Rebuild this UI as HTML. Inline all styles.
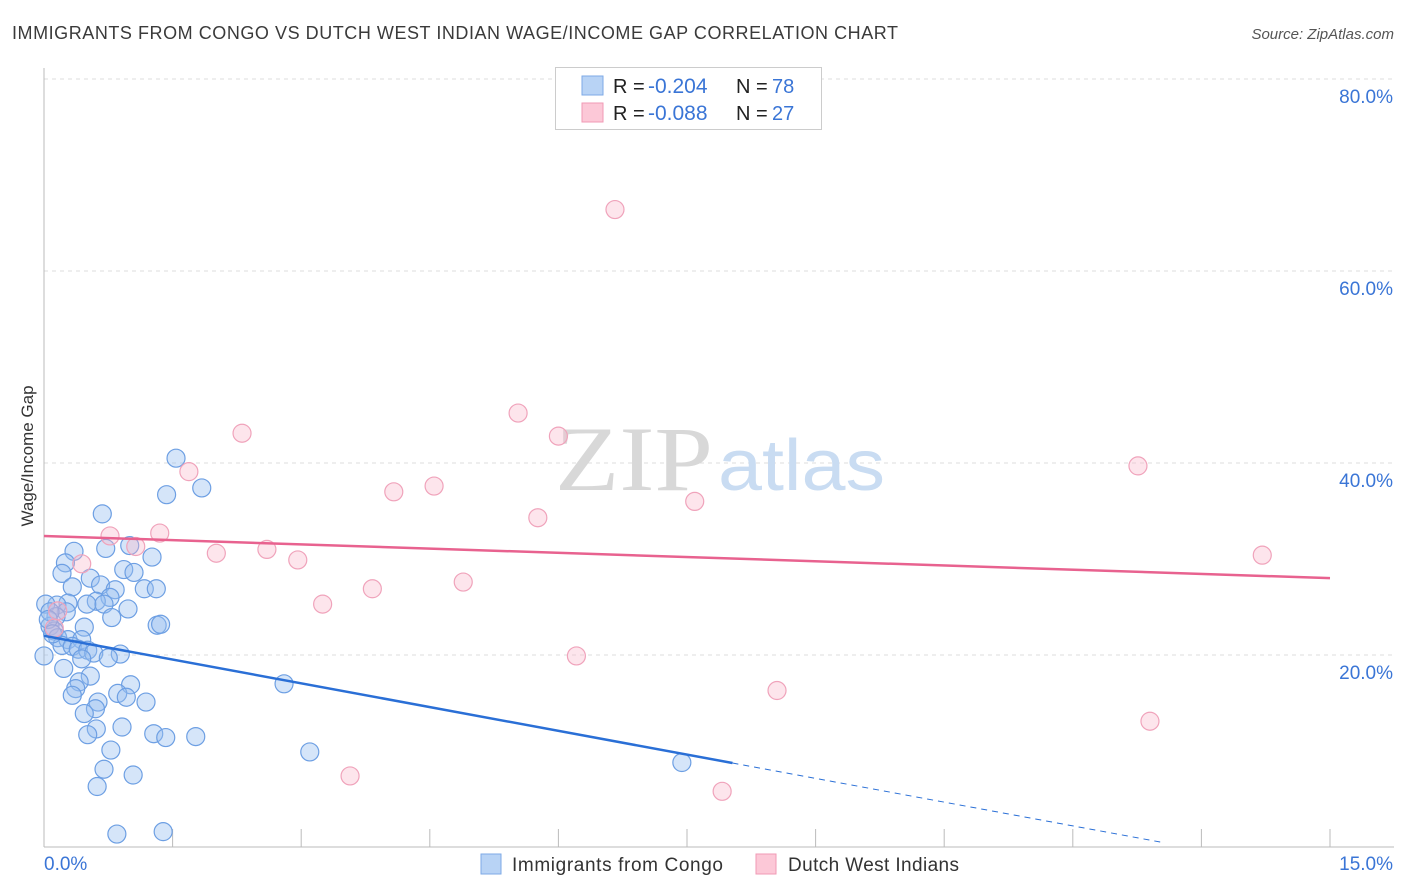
<!DOCTYPE html>
<html><head><meta charset="utf-8"><style>
body{margin:0;background:#fff;font-family:"Liberation Sans",sans-serif;}
#wrap{position:relative;width:1406px;height:892px;overflow:hidden;}
</style></head><body>
<div id="wrap">
<svg id="svg" width="1406" height="892" xmlns="http://www.w3.org/2000/svg">
<text x="12" y="39" font-size="18" fill="#3a3a3a" textLength="886" lengthAdjust="spacing">IMMIGRANTS FROM CONGO VS DUTCH WEST INDIAN WAGE/INCOME GAP CORRELATION CHART</text>
<text x="1394" y="39" font-size="15" fill="#555" font-style="italic" text-anchor="end">Source: ZipAtlas.com</text>
<text x="0" y="0" transform="translate(33,456) rotate(-90)" font-size="17" fill="#333" text-anchor="middle">Wage/Income Gap</text>
<g id="grid"></g>
<text x="713" y="490" font-size="92" fill="#d8d8d8" font-family="Liberation Serif,serif" text-anchor="end" textLength="158" lengthAdjust="spacingAndGlyphs">ZIP</text>
<text x="718" y="490" font-size="72" fill="#c9dcf2" font-family="Liberation Sans,sans-serif" textLength="167" lengthAdjust="spacingAndGlyphs">atlas</text>
<g id="marks"></g>
<g id="lines"></g>
<g>
<rect x="555.5" y="67.5" width="266" height="62" fill="#fff" stroke="#ccc"/>
<rect x="582" y="76" width="21" height="19" fill="#b8d3f5" stroke="#7ea9e6"/>
<rect x="582" y="103" width="21" height="19" fill="#fcc8d7" stroke="#f09ab4"/>
<text x="613" y="93" font-size="20" fill="#222">R =</text>
<text x="648" y="93" font-size="21" fill="#3a75d6">-0.204</text>
<text x="736" y="93" font-size="20" fill="#222">N =</text>
<text x="772" y="93" font-size="20" fill="#3a75d6">78</text>
<text x="613" y="120" font-size="20" fill="#222">R =</text>
<text x="648" y="120" font-size="21" fill="#3a75d6">-0.088</text>
<text x="736" y="120" font-size="20" fill="#222">N =</text>
<text x="772" y="120" font-size="20" fill="#3a75d6">27</text>
</g>
<g>
<rect x="481" y="854" width="20" height="20" fill="#b8d3f5" stroke="#7ea9e6"/>
<text x="512" y="871" font-size="19" fill="#333" textLength="211">Immigrants from Congo</text>
<rect x="756" y="854" width="20" height="20" fill="#fcc8d7" stroke="#f09ab4"/>
<text x="788" y="871" font-size="19" fill="#333" textLength="171">Dutch West Indians</text>
</g>
</svg>
</div>
<script>
const blueX=[1.54,1.43,1.84,0.68,0.72,1.00,0.35,1.26,0.25,0.21,0.93,1.05,0.54,0.66,0.33,0.83,1.17,1.31,0.77,0.61,0.50,0.28,0.15,0.02,0.70,0.98,0.26,0.14,0.79,1.32,1.36,0.47,0.07,0.12,0.16,0.28,0.44,0.21,0.33,0.40,0.51,0.58,0.89,0.75,0.44,0.00,0.23,2.80,0.54,0.41,1.01,0.37,0.33,0.86,0.96,0.63,1.19,0.60,0.47,0.91,0.61,1.28,1.42,1.77,0.51,0.78,3.10,0.70,1.04,0.62,7.44,0.85,1.39,0.07,0.05,0.10];
const blueY=[40.5,36.7,37.4,34.7,31.1,31.4,30.8,30.2,29.6,28.5,28.9,28.6,28.0,27.3,27.1,26.8,26.9,26.9,26.0,25.6,25.3,25.4,25.2,25.3,25.3,24.8,24.5,24.0,23.9,23.1,23.2,22.9,23.0,22.5,21.8,21.6,21.6,21.0,20.9,20.6,20.5,20.2,20.1,19.7,19.6,19.9,18.6,17.0,17.8,17.2,16.9,16.5,15.8,16.0,15.6,15.1,15.1,14.4,13.9,12.5,12.3,11.8,11.4,11.5,11.7,10.1,9.9,8.1,7.5,6.3,8.8,1.35,1.6,24.5,23.7,22.2];
const pinkX=[6.66,5.53,6.00,2.31,1.69,4.55,4.08,12.76,7.59,5.76,1.35,0.77,1.07,2.01,2.60,2.96,14.21,0.44,4.89,3.83,3.25,0.16,0.12,6.21,8.55,12.90,3.57,7.91];
const pinkY=[66.4,45.2,42.8,43.1,39.1,37.6,37.0,39.7,36.0,34.3,32.7,32.4,31.3,30.6,31.0,29.9,30.4,29.5,27.6,26.9,25.3,24.6,22.8,19.9,16.3,13.1,7.4,5.8];
const yTicks=[20,40,60,80];
const yTickLabels=["20.0%","40.0%","60.0%","80.0%"];
const xTicks=[1.5,3,4.5,6,7.5,9,10.5,12,13.5,15];
const blueTrend=[22.0,-1.65];   // intercept, slope
const blueSolidEnd=8.03, blueDashEnd=13.05;
const pinkTrend=[32.4,-0.293];

const X=v=>44+v/15*1286;
const Y=v=>847-v/20*192;
const NS="http://www.w3.org/2000/svg";
function mk(tag,attrs,parent){const e=document.createElementNS(NS,tag);for(const k in attrs)e.setAttribute(k,attrs[k]);parent.appendChild(e);return e;}
const grid=document.getElementById('grid'),marks=document.getElementById('marks'),lines=document.getElementById('lines');
yTicks.forEach((t,i)=>{
  const l=mk('line',{x1:44,x2:1394,y1:Y(t),y2:Y(t),stroke:'#ddd','stroke-dasharray':'4,4'},grid);
  
  
  const tx=mk('text',{x:1393,y:Y(t)+24,'font-size':19,fill:'#3a75d6','text-anchor':'end'},grid);
  tx.textContent=yTickLabels[i];
  
  
});
const ax=mk('line',{x1:44,x2:44,y1:68,y2:847,stroke:'#bbb'},grid);


const bx=mk('line',{x1:44,x2:1394,y1:847,y2:847,stroke:'#bbb'},grid);


xTicks.forEach(t=>{
  const l=mk('line',{x1:X(t),x2:X(t),y1:829,y2:847,stroke:'#bbb'},grid);
  
  
});
const xl0=mk('text',{x:44,y:870,'font-size':19,fill:'#3a75d6'},grid);xl0.textContent='0.0%';


const xl1=mk('text',{x:1393,y:870,'font-size':19,fill:'#3a75d6','text-anchor':'end'},grid);xl1.textContent='15.0%';


blueX.forEach((v,i)=>{
  const c=mk('circle',{cx:X(v),cy:Y(blueY[i]),r:9,fill:'rgba(150,190,240,0.4)',stroke:'#6d9fe3','stroke-width':1.2},marks);
  
  
});
pinkX.forEach((v,i)=>{
  const c=mk('circle',{cx:X(v),cy:Y(pinkY[i]),r:9,fill:'rgba(248,180,200,0.35)',stroke:'#f0a3bb','stroke-width':1.2},marks);
  
  
});
const bt=x=>blueTrend[0]+blueTrend[1]*x, pt=x=>pinkTrend[0]+pinkTrend[1]*x;
const l1=mk('line',{x1:X(0),y1:Y(bt(0)),x2:X(blueSolidEnd),y2:Y(bt(blueSolidEnd)),stroke:'#2a6fd6','stroke-width':2.5},lines);


const l2=mk('line',{x1:X(blueSolidEnd),y1:Y(bt(blueSolidEnd)),x2:X(blueDashEnd),y2:Y(bt(blueDashEnd)),stroke:'#2a6fd6','stroke-width':1,'stroke-dasharray':'6,5'},lines);


const l3=mk('line',{x1:X(0),y1:Y(pt(0)),x2:X(15),y2:Y(pt(15)),stroke:'#e8628f','stroke-width':2.5},lines);


</script>
</body></html>
